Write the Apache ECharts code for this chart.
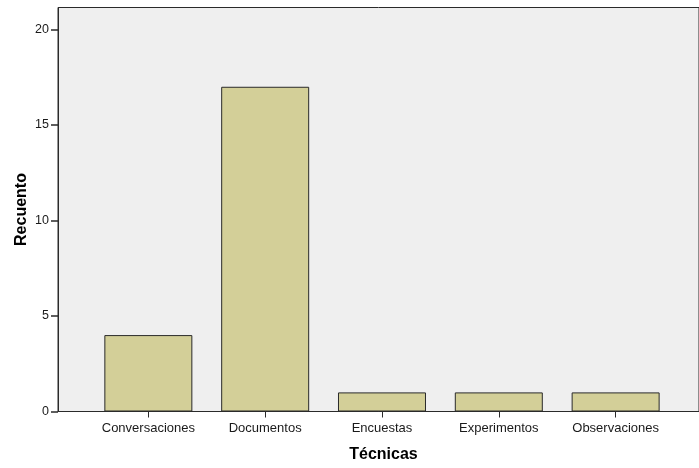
<!DOCTYPE html>
<html><head><meta charset="utf-8">
<script src="https://cdn.jsdelivr.net/npm/echarts@6/dist/echarts.min.js"></script>
<style>html,body{margin:0;padding:0;background:#fff}#c{width:699px;height:468px}</style>
</head><body><div id="c"></div>
<script>
const categories = ['Conversaciones','Documentos','Encuestas','Experimentos','Observaciones'];
const counts = [4, 17, 1, 1, 1];
const yTicks = [0, 5, 10, 15, 20];
const xTitle = 'Técnicas';
const yTitle = 'Recuento';

const font = "'Liberation Sans', Arial, sans-serif";
const idx = categories.map((c, i) => i);
const xMin = -0.7735;
const xMax = xMin + 642 / 117;

const chart = echarts.init(document.getElementById('c'), null, {renderer: 'canvas'});
chart.setOption({
  animation: false,
  backgroundColor: '#ffffff',
  grid: {
    left: 58, right: -1, top: 7.5, bottom: 56.5,
    show: true, backgroundColor: '#efefef', borderColor: '#2a2a2a', borderWidth: 1
  },
  xAxis: {
    type: 'value', min: xMin, max: xMax,
    name: xTitle, nameLocation: 'middle', nameGap: 35, nameMoveOverlap: false,
    nameTextStyle: {fontFamily: font, fontSize: 16, fontWeight: 'bold', color: '#000', padding: [0, 0, 0, 10]},
    axisLine: {show: true, onZero: false, lineStyle: {color: '#2a2a2a', width: 1}},
    axisTick: {show: true, customValues: idx, length: 6, lineStyle: {color: '#2a2a2a'}},
    axisLabel: {customValues: idx, margin: 10, fontFamily: font, fontSize: 13, color: '#1a1a1a',
      formatter: v => categories[Math.round(v)]},
    splitLine: {show: false}
  },
  yAxis: {
    type: 'value', min: 0, max: 21.15,
    name: yTitle, nameLocation: 'middle', nameGap: 28, nameRotate: 90, nameMoveOverlap: false,
    nameTextStyle: {fontFamily: font, fontSize: 16, fontWeight: 'bold', color: '#000'},
    axisLine: {show: true, onZero: false, lineStyle: {color: '#2a2a2a', width: 1}},
    axisTick: {show: true, customValues: yTicks, length: 7, lineStyle: {color: '#2a2a2a', width: 1.5}},
    axisLabel: {customValues: yTicks, margin: 9, fontFamily: font, fontSize: 12.5, color: '#1a1a1a'},
    splitLine: {show: false}
  },
  series: [{
    type: 'bar',
    barWidth: 88,
    data: idx.map(i => [i, counts[i]]),
    itemStyle: {color: '#d3cf98', borderColor: '#2a2a2a', borderWidth: 1}
  }]
});
</script></body></html>
